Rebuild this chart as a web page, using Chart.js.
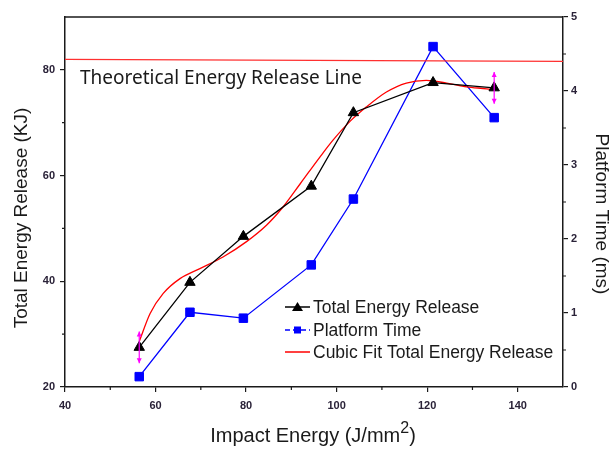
<!DOCTYPE html>
<html>
<head>
<meta charset="utf-8">
<script src="https://cdn.jsdelivr.net/npm/chart.js"></script>
<style>
  html, body { margin: 0; padding: 0; background: #fff; }
  #wrap { width: 611px; height: 452px; }
</style>
</head>
<body>
<div id="wrap"><canvas id="myChart" width="611" height="452"></canvas></div>
<script>
// values
const impactEnergy = [56.4, 67.6, 79.4, 94.4, 103.7, 121.3, 134.8];
const totalRelease = [27.5, 39.8, 48.5, 58.0, 71.9, 77.6, 76.6];
const platformTime = [0.14, 1.01, 0.93, 1.65, 2.54, 4.60, 3.64];
const releaseError = [3, 0, 0, 0, 0, 0, 3];

const fitX = [56.4, 58.8, 61.7, 65.4, 69.8, 74.9, 80.1, 84.5, 88.2, 92.0, 96.3, 99.2, 102.9, 106.6, 111.0, 115.4, 119.8, 124.3, 128.7, 133.1, 134.8];
const fitY = [28.6, 33.9, 37.7, 40.5, 42.4, 44.6, 47.5, 50.6, 54.1, 58.5, 63.5, 66.7, 70.2, 73.0, 75.8, 77.5, 78.0, 77.5, 76.8, 76.4, 76.2];

const theoryX = [40, 150];
const theoryY = [82, 81.6];

const xTicks = [40, 60, 80, 100, 120, 140];
const xMinor = [50, 70, 90, 110, 130];
const yTicks = [20, 40, 60, 80];
const yMinor = [30, 50, 70];
const y2Ticks = [0, 1, 2, 3, 4, 5];
const y2Minor = [0.5, 1.5, 2.5, 3.5, 4.5];

const legendLabels = ['Total Energy Release', 'Platform Time', 'Cubic Fit Total Energy Release'];

const pts = (xs, ys) => xs.map((x, i) => ({x: x, y: ys[i]}));
const axisColor = '#1a1a1a';
const tickFont = {family: 'Liberation Sans, Arial', size: 11, weight: 'bold'};

function fixTicks(list) {
    return function (scale) {
        scale.ticks = list.map(v => ({value: v}));
    };
}

const extras = {
    id: 'extras',
    afterDatasetsDraw(chart) {
        const ctx = chart.ctx;
        const a = chart.chartArea;
        const sx = chart.scales.x, sy = chart.scales.y, sy2 = chart.scales.y2;
        ctx.save();

        // top frame line
        ctx.strokeStyle = axisColor;
        ctx.lineWidth = 1.5;
        ctx.beginPath();
        ctx.moveTo(a.left, a.top);
        ctx.lineTo(a.right, a.top);
        ctx.stroke();

        // minor ticks
        ctx.lineWidth = 1.2;
        ctx.beginPath();
        xMinor.forEach(v => {
            const px = sx.getPixelForValue(v);
            ctx.moveTo(px, a.bottom);
            ctx.lineTo(px, a.bottom + 3);
        });
        yMinor.forEach(v => {
            const py = sy.getPixelForValue(v);
            ctx.moveTo(a.left, py);
            ctx.lineTo(a.left - 3, py);
        });
        y2Minor.forEach(v => {
            const py = sy2.getPixelForValue(v);
            ctx.moveTo(a.right, py);
            ctx.lineTo(a.right + 3, py);
        });
        ctx.stroke();

        // error bars (magenta double arrows)
        ctx.strokeStyle = '#ff00ff';
        ctx.fillStyle = '#ff00ff';
        ctx.lineWidth = 1.2;
        impactEnergy.forEach((x, i) => {
            const e = releaseError[i];
            if (!e) return;
            const px = sx.getPixelForValue(x);
            const yt = sy.getPixelForValue(totalRelease[i] + e);
            const yb = sy.getPixelForValue(totalRelease[i] - e);
            ctx.beginPath();
            ctx.moveTo(px, yt);
            ctx.lineTo(px, yb);
            ctx.stroke();
            ctx.beginPath();
            ctx.moveTo(px, yt);
            ctx.lineTo(px - 2.5, yt + 5);
            ctx.lineTo(px + 2.5, yt + 5);
            ctx.closePath();
            ctx.moveTo(px, yb);
            ctx.lineTo(px - 2.5, yb - 5);
            ctx.lineTo(px + 2.5, yb - 5);
            ctx.closePath();
            ctx.fill();
        });

        // theoretical line label
        ctx.fillStyle = '#1a1a1a';
        ctx.font = '19px "Noto Sans"';
        ctx.textAlign = 'left';
        ctx.textBaseline = 'alphabetic';
        ctx.fillText('Theoretical Energy Release Line', 80, 84);

        // legend
        ctx.font = '17.5px "Liberation Sans", Arial';
        ctx.textBaseline = 'middle';
        const lx = 285, rows = [307, 330, 352];
        // row 1: black line with triangle
        ctx.strokeStyle = '#000';
        ctx.fillStyle = '#000';
        ctx.lineWidth = 1.5;
        ctx.beginPath();
        ctx.moveTo(lx, rows[0]);
        ctx.lineTo(lx + 25, rows[0]);
        ctx.stroke();
        ctx.beginPath();
        ctx.moveTo(lx + 12.5, rows[0] - 5);
        ctx.lineTo(lx + 18, rows[0] + 4);
        ctx.lineTo(lx + 7, rows[0] + 4);
        ctx.closePath();
        ctx.fill();
        // row 2: blue dashed with square
        ctx.strokeStyle = '#0000ff';
        ctx.fillStyle = '#0000ff';
        ctx.setLineDash([5, 3]);
        ctx.beginPath();
        ctx.moveTo(lx, rows[1]);
        ctx.lineTo(lx + 25, rows[1]);
        ctx.stroke();
        ctx.setLineDash([]);
        ctx.fillRect(lx + 9, rows[1] - 3.5, 7, 7);
        // row 3: red line
        ctx.strokeStyle = '#ff0000';
        ctx.beginPath();
        ctx.moveTo(lx, rows[2]);
        ctx.lineTo(lx + 25, rows[2]);
        ctx.stroke();
        ctx.fillStyle = '#1a1a1a';
        legendLabels.forEach((t, i) => ctx.fillText(t, lx + 28, rows[i] + 1));

        // axis titles
        ctx.font = '19px "Liberation Sans", Arial';
        ctx.textAlign = 'center';
        ctx.save();
        ctx.translate(22, 218);
        ctx.rotate(-Math.PI / 2);
        ctx.fillText('Total Energy Release (KJ)', 0, 0);
        ctx.restore();
        ctx.save();
        ctx.translate(601, 214);
        ctx.rotate(Math.PI / 2);
        ctx.fillText('Platform Time (ms)', 0, 0);
        ctx.restore();

        ctx.font = '20px "Liberation Sans", Arial';
        ctx.textAlign = 'left';
        ctx.textBaseline = 'alphabetic';
        const main = 'Impact Energy (J/mm';
        const w1 = ctx.measureText(main).width;
        ctx.font = '16px "Liberation Sans", Arial';
        const w2 = ctx.measureText('2').width;
        ctx.font = '20px "Liberation Sans", Arial';
        const w3 = ctx.measureText(')').width;
        const startX = 313 - (w1 + w2 + w3) / 2;
        ctx.fillText(main, startX, 442);
        ctx.font = '16px "Liberation Sans", Arial';
        ctx.fillText('2', startX + w1, 433);
        ctx.font = '20px "Liberation Sans", Arial';
        ctx.fillText(')', startX + w1 + w2, 442);

        ctx.restore();
    }
};

const ctx = document.getElementById('myChart').getContext('2d');
const chart = new Chart(ctx, {
    type: 'line',
    data: {
        datasets: [{
            label: 'Theoretical Energy Release Line',
            data: pts(theoryX, theoryY),
            borderColor: '#ff3030',
            borderWidth: 1.3,
            pointRadius: 0,
            yAxisID: 'y'
        }, {
            label: legendLabels[0],
            data: pts(impactEnergy, totalRelease),
            borderColor: '#000',
            backgroundColor: '#000',
            borderWidth: 1.3,
            pointStyle: 'triangle',
            pointRadius: 6,
            pointBorderWidth: 1,
            yAxisID: 'y'
        }, {
            label: legendLabels[2],
            data: pts(fitX, fitY),
            borderColor: '#ff0000',
            borderWidth: 1.3,
            pointRadius: 0,
            cubicInterpolationMode: 'monotone',
            yAxisID: 'y'
        }, {
            label: legendLabels[1],
            data: pts(impactEnergy, platformTime),
            borderColor: '#0000ff',
            backgroundColor: '#0000ff',
            borderWidth: 1.3,
            pointStyle: 'rect',
            pointRadius: 6,
            pointBorderWidth: 1,
            yAxisID: 'y2'
        }]
    },
    options: {
        responsive: false,
        animation: false,
        layout: {padding: {top: 17, left: 0, right: 0, bottom: 0}},
        plugins: {legend: {display: false}, tooltip: {enabled: false}},
        scales: {
            x: {
                type: 'linear',
                min: 40,
                max: 150,
                afterBuildTicks: fixTicks(xTicks),
                afterFit: s => { s.height = 65; },
                grid: {drawOnChartArea: false, tickLength: 5, color: axisColor, lineWidth: 1.2},
                border: {color: axisColor, width: 1.5},
                ticks: {font: tickFont, color: '#2a2238', padding: 7, maxRotation: 0}
            },
            y: {
                position: 'left',
                min: 20,
                max: 90,
                afterBuildTicks: fixTicks(yTicks),
                afterFit: s => { s.width = 65; },
                grid: {drawOnChartArea: false, tickLength: 5, color: axisColor, lineWidth: 1.2},
                border: {color: axisColor, width: 1.5},
                ticks: {font: tickFont, color: '#2a2238', padding: 5}
            },
            y2: {
                position: 'right',
                min: 0,
                max: 5,
                afterBuildTicks: fixTicks(y2Ticks),
                afterFit: s => { s.width = 48; },
                grid: {drawOnChartArea: false, tickLength: 5, color: axisColor, lineWidth: 1.2},
                border: {color: axisColor, width: 1.5},
                ticks: {font: tickFont, color: '#2a2238', padding: 3}
            }
        }
    },
    plugins: [extras]
});
</script>
</body>
</html>
